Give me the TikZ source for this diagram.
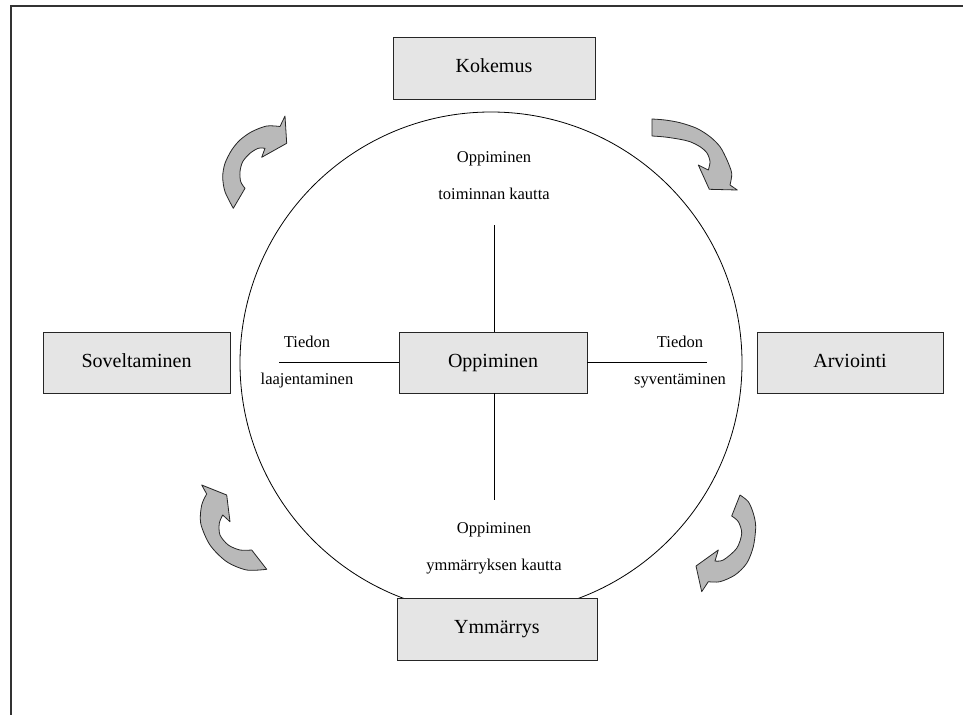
\documentclass[tikz,border=0pt]{standalone}
\usepackage{fontspec}
\setmainfont{Liberation Serif}
\begin{document}
\begin{tikzpicture}[x=1pt,y=-1pt,
  box/.style={draw=black!85, line width=0.9pt, fill=gray!20, inner sep=0pt,
    text height=13pt, text depth=4pt, font=\fontsize{20}{24}\selectfont},
  lbl/.style={align=center, inner sep=0pt, font=\fontsize{16.5}{37}\selectfont},
  turn/.style={draw=black!85, line width=0.8pt, fill=gray!55, line join=round},
  axis/.style={draw=black, line width=0.8pt}]
\useasboundingbox (0,0) rectangle (963,715);

% page frame (top and left edges only)
\draw[line width=1.8pt, gray!40!black] (963,6) -- (11,6) -- (11,715);

% outer circle
\draw[line width=0.8pt] (491,363) circle[radius=251];

% boxes
\node[box, minimum width=202pt, minimum height=62pt] (kok) at (494,68) {Kokemus};
\node[box, minimum width=200pt, minimum height=62pt] (ymm) at (497,629) {Ymmärrys};
\node[box, minimum width=187pt, minimum height=61pt] (sov) at (136.5,362.5) {Soveltaminen};
\node[box, minimum width=186pt, minimum height=61pt] (arv) at (850,362.5) {Arviointi};
\node[box, minimum width=188pt, minimum height=61pt] (opp) at (493,362.5) {Oppiminen};

% axis labels
\node[lbl] (ltop) at (494,176) {Oppiminen\\toiminnan kautta};
\node[lbl] (lbot) at (494,548) {Oppiminen\\ymmärryksen kautta};
\node[lbl] (lleft) at (307,362.5) {Tiedon\\laajentaminen};
\node[lbl] (lright) at (680,362.5) {Tiedon\\syventäminen};

% axis lines from the centre box
\coordinate (tEnd) at (494,225);
\coordinate (bEnd) at (494,500);
\coordinate (lEnd) at (279,362.5);
\coordinate (rEnd) at (707,362.5);
\draw[axis] (opp.north -| tEnd) -- (tEnd);
\draw[axis] (opp.south -| bEnd) -- (bEnd);
\draw[axis] (opp.west) -- (lEnd);
\draw[axis] (opp.east) -- (rEnd);

% curved block arrows
% top left
\draw[turn] (233.3,208.3)
  -- plot[smooth] coordinates {(233.3,208.3) (225,191.7) (222.7,176.7) (225,163.3) (231.7,150) (240,140) (251.7,131.7) (266.7,126) (280,126.5)}
  -- (285,116) -- (286.7,143.3) -- (261.7,157.3) -- (265,148.3)
  -- plot[smooth] coordinates {(265,148.3) (258.3,148.3) (250,153.3) (242.7,161.7) (240,171.7) (240.7,181.7) (245,188.3)}
  -- cycle;
% top right
\draw[turn] (652,119)
  -- plot[smooth] coordinates {(652,119) (665,120) (680,122.7) (696.7,128.3) (710,136.7) (720,146.7) (727,160) (731.7,173.3) (730,185)}
  -- (737.3,190) -- (709.3,189.3) -- (698.3,165) -- (708.3,170)
  -- plot[smooth] coordinates {(708.3,170) (710,161.7) (707,153) (700,146.7) (690,141.7) (680,139.3) (665,137) (652,136)}
  -- cycle;
% bottom left
\draw[turn] (266.7,569.3)
  -- plot[smooth] coordinates {(266.7,569.3) (246.7,570) (226.7,561.7) (210,545) (200.7,523.3) (201.7,505) (206.7,494)}
  -- (201.7,485) -- (226.7,495) -- (230,521.7) -- (222.7,515)
  -- plot[smooth] coordinates {(222.7,515) (219.3,523.3) (220,535) (228.3,545) (240,550) (251.7,550)}
  -- cycle;
% bottom right
\draw[turn] (740,495)
  -- plot[smooth] coordinates {(740,495) (748.3,501.7) (753.3,513.3) (755.7,526.7) (753.3,546.7) (746.7,563.3) (735,575) (720,581.7) (708.3,581.7)}
  -- (701.7,591.7) -- (696,566) -- (718.3,550) -- (715,561)
  -- plot[smooth] coordinates {(715,561) (723.3,560) (736.7,548.3) (741.7,533.3) (738.3,521.7) (731.7,516)}
  -- cycle;
\end{tikzpicture}
\end{document}
